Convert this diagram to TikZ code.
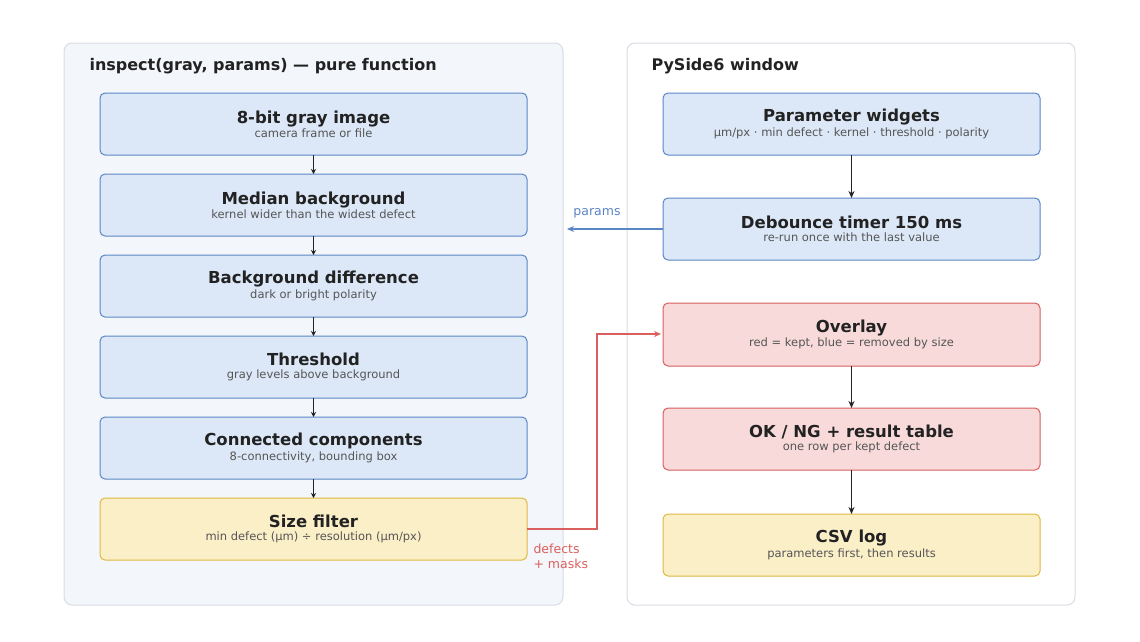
\documentclass[tikz,border=0pt]{standalone}
\usepackage{fontspec}
\setmainfont{DejaVu Sans}
\usetikzlibrary{arrows.meta}
\definecolor{bfill}{HTML}{DCE8F7}\definecolor{bline}{HTML}{5B86C6}
\definecolor{rfill}{HTML}{F8DADA}\definecolor{rline}{HTML}{D9605E}
\definecolor{yfill}{HTML}{FBEFC8}\definecolor{yline}{HTML}{E0B840}
\definecolor{txt}{HTML}{222222}\definecolor{sub}{HTML}{555555}
\definecolor{lpanel}{HTML}{F3F6FA}\definecolor{pline}{HTML}{D8DDE3}
\tikzset{
 panel/.style={draw=pline,rounded corners=8pt,line width=1pt},
 box/.style={rounded corners=5pt,line width=1pt,align=center,text=txt},
 bb/.style={box,fill=bfill,draw=bline},
 rb/.style={box,fill=rfill,draw=rline},
 yb/.style={box,fill=yfill,draw=yline},
 arr/.style={-{Stealth[length=7pt,width=6pt]},line width=1.2pt,draw=txt},
 ttl/.style={font=\bfseries\fontsize{16}{18}\selectfont,text=txt,anchor=west}
}
\begin{document}
\begin{tikzpicture}[x=1pt,y=-1pt]
\useasboundingbox (0,0) rectangle (1140,641);
\fill[white] (0,0) rectangle (1140,641);
\draw[panel,fill=lpanel] (64,43) rectangle (563,605);
\draw[panel,fill=white] (627,43) rectangle (1075,605);
\node[ttl] (t1) at (86,66) {inspect(gray, params) — pure function};
\node[ttl] (t2) at (648,66) {PySide6 window};
\newcommand{\nd}[7]{%
 \path[#1] (#2,#3) rectangle (#4,#5);
 \coordinate (#6) at ({(#2+#4)/2},{(#3+#5)/2});
 \coordinate (#6n) at ({(#2+#4)/2},#3); \coordinate (#6s) at ({(#2+#4)/2},#5);
 \coordinate (#6w) at (#2,{(#3+#5)/2}); \coordinate (#6e) at (#4,{(#3+#5)/2});
 \node[text=txt,align=center] at (#6) {#7};}
\newcommand{\two}[2]{{\bfseries\fontsize{16.5}{20}\selectfont #1}\\[1pt]{\color{sub}\fontsize{11.5}{14}\selectfont #2}}
\nd{bb}{100}{93}{527}{155}{a}{\two{8-bit gray image}{camera frame or file}}
\nd{bb}{100}{174}{527}{236}{b}{\two{Median background}{kernel wider than the widest defect}}
\nd{bb}{100}{255}{527}{317}{c}{\two{Background difference}{dark or bright polarity}}
\nd{bb}{100}{336}{527}{398}{d}{\two{Threshold}{gray levels above background}}
\nd{bb}{100}{417}{527}{479}{e}{\two{Connected components}{8-connectivity, bounding box}}
\nd{yb}{100}{498}{527}{560}{f}{\two{Size filter}{min defect (μm) ÷ resolution (μm/px)}}
\nd{bb}{663}{93}{1040}{155}{p}{\two{Parameter widgets}{μm/px · min defect · kernel · threshold · polarity}}
\nd{bb}{663}{198}{1040}{260}{q}{\two{Debounce timer 150 ms}{re-run once with the last value}}
\nd{rb}{663}{303}{1040}{366}{r}{\two{Overlay}{red = kept, blue = removed by size}}
\nd{rb}{663}{408}{1040}{470}{s}{\two{OK / NG + result table}{one row per kept defect}}
\nd{yb}{663}{514}{1040}{576}{u}{\two{CSV log}{parameters first, then results}}
\tikzset{sarr/.style={arr,line width=1pt,-{Stealth[length=5pt,width=5pt]}}}
\draw[sarr] (as) -- (bn); \draw[sarr] (bs) -- (cn); \draw[sarr] (cs) -- (dn);
\draw[sarr] (ds) -- (en); \draw[sarr] (es) -- (fn);
\draw[arr] (ps) -- (qn); \draw[arr] (rs) -- (sn); \draw[arr] (ss) -- (un);
\coordinate (pl) at (567,229);
\draw[arr,draw=bline] (qw) -- (pl);
\node[text=bline,font=\fontsize{12.5}{14}\selectfont] (pt) at (597,213) {params};
\coordinate (rw) at (661,334);
\draw[arr,draw=rline] (fe) -- (597,529) -- (597,334) -- (rw);
\node[text=rline,font=\fontsize{12.5}{15}\selectfont,align=left,anchor=north west] (dm) at (530,540) {defects\\+ masks};
\end{tikzpicture}
\end{document}
